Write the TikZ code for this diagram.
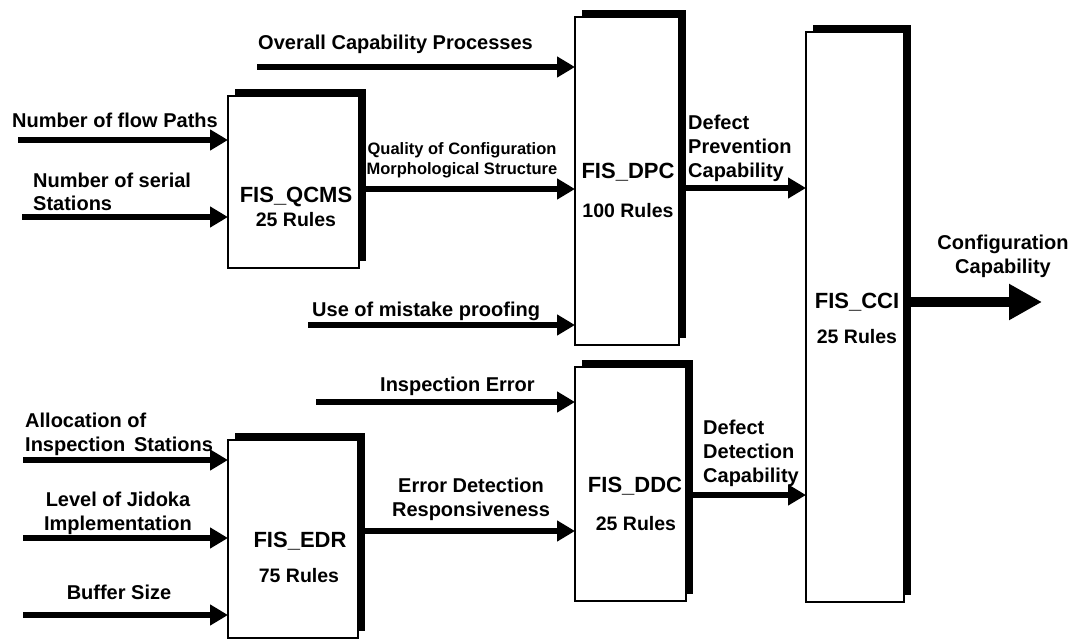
\documentclass[tikz,border=0pt]{standalone}
\usepackage{fontspec}
\setmainfont{Liberation Sans}
\usetikzlibrary{arrows.meta,shadows}
\begin{document}
\begin{tikzpicture}[x=1pt,y=-1pt,
  block/.style={draw=black, line width=1.2pt, fill=white, inner sep=0pt, outer sep=0pt,
    anchor=north west,
    general shadow={fill=black, shadow xshift=7pt, shadow yshift=7pt}},
  title/.style={font=\fontsize{22}{26}\selectfont\bfseries, inner sep=0pt, anchor=base},
  rules/.style={font=\fontsize{19.5}{23}\selectfont\bfseries, inner sep=0pt, anchor=base},
  lbl/.style={font=\fontsize{20}{24}\selectfont\bfseries, inner sep=0pt, align=left},
  small/.style={font=\fontsize{16.5}{20}\selectfont\bfseries, inner sep=0pt, align=center},
  flow/.style={line width=6pt, -{Triangle[length=18pt,width=20pt]}},
  bigflow/.style={line width=10pt, -{Triangle[length=33pt,width=34pt]}},
]
\fill[white] (0,0) rectangle (1073,642);
\useasboundingbox (0,0) rectangle (1073,642);

% fuzzy inference blocks
\node[block, minimum width=131pt, minimum height=172pt] (qcms) at (228,96) {};
\node[block, minimum width=104pt, minimum height=328pt] (dpc)  at (575,17) {};
\node[block, minimum width=98pt,  minimum height=570pt] (cci)  at (806,32) {};
\node[block, minimum width=111pt, minimum height=234pt] (ddc)  at (575,367) {};
\node[block, minimum width=130pt, minimum height=198pt] (edr)  at (228,440) {};

% block titles and rule counts
\node[title] (qcmsT) at (296,202) {FIS\_QCMS};
\node[rules] (qcmsR) at (296,226) {25 Rules};
\node[title] (dpcT)  at (628,178) {FIS\_DPC};
\node[rules] (dpcR)  at (628,217) {100 Rules};
\node[title] (cciT)  at (857,308) {FIS\_CCI};
\node[rules] (cciR)  at (857,343) {25 Rules};
\node[title] (ddcT)  at (635,492) {FIS\_DDC};
\node[rules] (ddcR)  at (636,530) {25 Rules};
\node[title] (edrT)  at (300,547) {FIS\_EDR};
\node[rules] (edrR)  at (299,582) {75 Rules};

% input labels
\node[lbl, anchor=north west] (ovrL) at (258,35) {Overall Capability Processes};
\node[lbl, anchor=north west] (fpL)  at (12,113) {Number of flow Paths};
\node[lbl, anchor=north west, font=\fontsize{20}{23}\selectfont\bfseries] (nsL) at (33,173) {Number of serial\\Stations};
\node[small, anchor=north] (qualL) at (462,142) {Quality of Configuration\\Morphological Structure};
\node[lbl, anchor=north west] (misL) at (312,302) {Use of mistake proofing};
\node[lbl, anchor=north west] (ieL)  at (380,377) {Inspection Error};
\node[lbl, anchor=north west] (alL)  at (25,413) {Allocation of\\Inspection\, Stations};
\node[lbl, anchor=north, align=center] (jiL) at (118,492) {Level of Jidoka\\Implementation};
\node[lbl, anchor=north] (bsL) at (119,585) {Buffer Size};
\node[lbl, anchor=north, align=center] (erL) at (471,478) {Error Detection\\Responsiveness};
\node[lbl, anchor=north west] (dpL) at (688,115) {Defect\\Prevention\\Capability};
\node[lbl, anchor=north west] (ddL) at (703,420) {Defect\\Detection\\Capability};
\node[lbl, anchor=north, align=center] (cfL) at (1003,235) {Configuration\\Capability};

% free starting points of the input arrows
\coordinate (ovr) at (257,67);
\coordinate (fp)  at (18,140);
\coordinate (ns)  at (22,217);
\coordinate (mis) at (308,325);
\coordinate (ie)  at (316,402);
\coordinate (al)  at (23,460);
\coordinate (ji)  at (23,538);
\coordinate (bs)  at (23,615);
\coordinate (cf)  at (1042,302);
% heights of the links between blocks
\coordinate (qa) at (0,189);
\coordinate (da) at (0,188);
\coordinate (dd) at (0,495);
\coordinate (ea) at (0,531);

% inputs
\draw[flow] (ovr) -- (ovr -| dpc.west);
\draw[flow] (fp)  -- (fp -| qcms.west);
\draw[flow] (ns)  -- (ns -| qcms.west);
\draw[flow] (mis) -- (mis -| dpc.west);
\draw[flow] (ie)  -- (ie -| ddc.west);
\draw[flow] (al)  -- (al -| edr.west);
\draw[flow] (ji)  -- (ji -| edr.west);
\draw[flow] (bs)  -- (bs -| edr.west);

% links between blocks
\draw[flow] (qcms.east |- qa) -- (dpc.west |- qa);
\draw[flow] (dpc.east |- da)  -- (cci.west |- da);
\draw[flow] (ddc.east |- dd)  -- (cci.west |- dd);
\draw[flow] (edr.east |- ea)  -- (ddc.west |- ea);
\draw[bigflow] (cci.east |- cf) -- (cf);
\end{tikzpicture}
\end{document}
